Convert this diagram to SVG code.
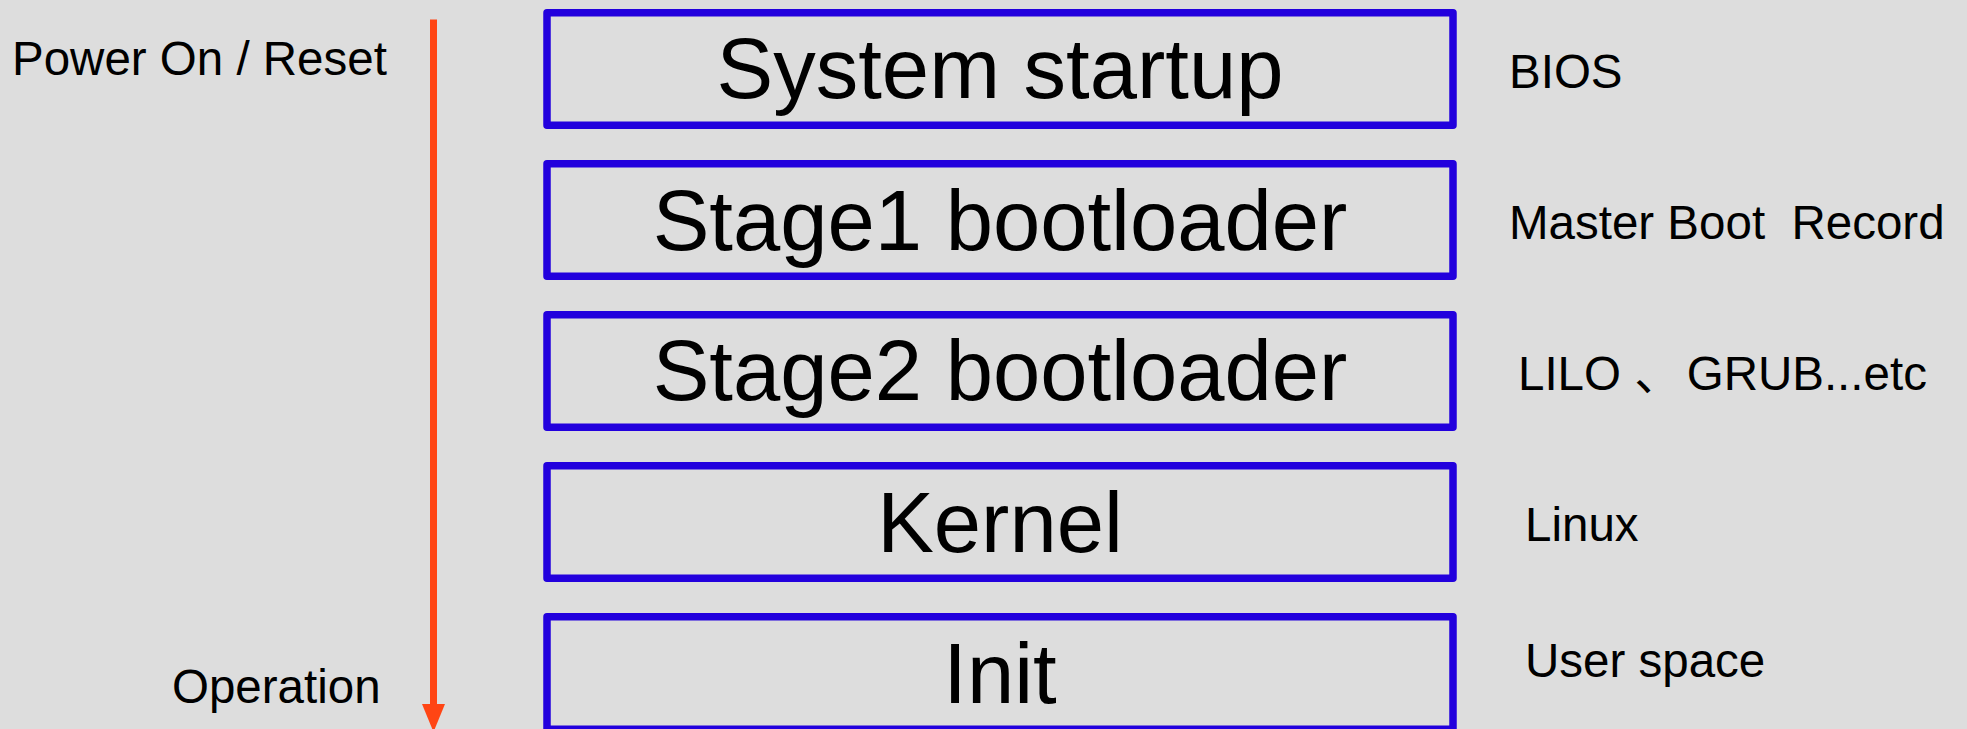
<svg xmlns="http://www.w3.org/2000/svg" width="1967" height="729" viewBox="0 0 1967 729">
  <style>
    .box { fill: none; stroke: #2200DD; stroke-width: 7.5; stroke-linejoin: round; }
    .big { font-family: "Liberation Sans", Arial, sans-serif; font-size: 85px; fill: #000; text-anchor: middle; }
    .lbl { font-family: "Liberation Sans", Arial, "Noto Sans CJK SC", sans-serif; font-size: 47.5px; fill: #000; white-space: pre; }
  </style>
  <rect x="0" y="0" width="1967" height="729" fill="#DDDDDD"/>

  <g id="connectors">
    <line x1="433.5" y1="19.5" x2="433.5" y2="706" stroke="#FF4514" stroke-width="7"/>
    <polygon points="422,704 445,704 433.5,732" fill="#FF4514"/>
  </g>

  <g id="label-power">
    <text class="lbl" x="12" y="75">Power On / Reset</text>
  </g>
  <g id="label-operation">
    <text class="lbl" x="172" y="703">Operation</text>
  </g>

  <g id="node-system-startup">
    <rect class="box" x="547" y="12.75" width="906" height="112.5"/>
    <text class="big" x="1000" y="98">System startup</text>
  </g>
  <g id="node-stage1">
    <rect class="box" x="547" y="163.75" width="906" height="112.5"/>
    <text class="big" x="1000" y="250">Stage1 bootloader</text>
  </g>
  <g id="node-stage2">
    <rect class="box" x="547" y="314.75" width="906" height="112.5"/>
    <text class="big" x="1000" y="400">Stage2 bootloader</text>
  </g>
  <g id="node-kernel">
    <rect class="box" x="547" y="465.75" width="906" height="112.5"/>
    <text class="big" x="1000" y="552">Kernel</text>
  </g>
  <g id="node-init">
    <rect class="box" x="547" y="616.75" width="906" height="112.5"/>
    <text class="big" x="1000" y="703">Init</text>
  </g>

  <g id="side-labels">
    <text class="lbl" x="1509" y="88">BIOS</text>
    <text class="lbl" x="1509" y="239" xml:space="preserve">Master Boot  Record</text>
    <text class="lbl" x="1518" y="390" xml:space="preserve">LILO 、<tspan dx="5">GRUB...etc</tspan></text>
    <text class="lbl" x="1525" y="541">Linux</text>
    <text class="lbl" x="1525" y="677">User space</text>
  </g>
</svg>
